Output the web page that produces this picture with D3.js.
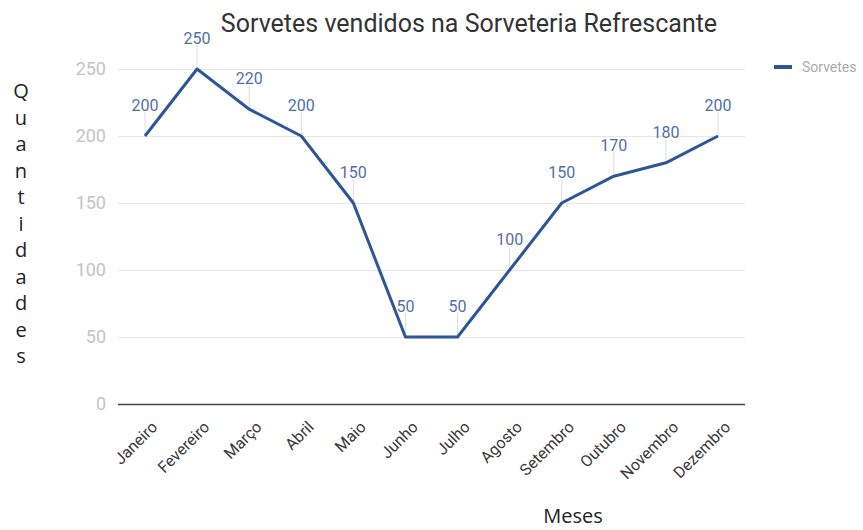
<!DOCTYPE html>
<html>
<head>
<meta charset="utf-8">
<script src="https://cdn.jsdelivr.net/npm/d3@7"></script>
<style>
  body { margin: 0; background: #fff; font-family: Roboto, "Noto Sans", sans-serif; }
</style>
</head>
<body>
<div id="chart"></div>
<script>
const months = ['Janeiro', 'Fevereiro', 'Março', 'Abril', 'Maio', 'Junho',
  'Julho', 'Agosto', 'Setembro', 'Outubro', 'Novembro', 'Dezembro'];
const sorvetes = [200, 250, 220, 200, 150, 50, 50, 100, 150, 170, 180, 200];
const yTicks = [0, 50, 100, 150, 200, 250];

const svgWidth = 863, svgHeight = 530;
const margin = { top: 69, right: 118, bottom: 126, left: 118 };
const width = svgWidth - margin.left - margin.right;
const height = svgHeight - margin.top - margin.bottom;

const x = d3.scalePoint().domain(months).range([27, 600]);
const y = d3.scaleLinear().domain([0, 250]).range([height, 0]);

const svg = d3.select('#chart').append('svg')
  .attr('width', svgWidth)
  .attr('height', svgHeight);

const g = svg.append('g')
  .attr('transform', 'translate(' + margin.left + ',' + margin.top + ')');

// grid lines + y labels
const yAxis = g.append('g')
  .call(d3.axisLeft(y).tickValues(yTicks).tickSize(-width).tickPadding(12));
yAxis.select('.domain').remove();
yAxis.selectAll('.tick line')
  .attr('stroke', d => d === 0 ? '#444' : '#e6e6e6')
  .attr('stroke-width', d => d === 0 ? 1.3 : 1);
yAxis.selectAll('.tick text')
  .attr('fill', '#c4c4c4')
  .style('font-size', '18px')
  .style('font-family', 'Roboto, sans-serif');

// x axis labels
const xAxis = g.append('g')
  .attr('transform', 'translate(0,' + height + ')')
  .call(d3.axisBottom(x).tickSize(0).tickPadding(0));
xAxis.select('.domain').remove();
xAxis.selectAll('.tick text')
  .attr('text-anchor', 'end')
  .attr('dy', '0.35em')
  .attr('transform', 'translate(9,20) rotate(-45)')
  .attr('fill', '#3a3a3a')
  .style('font-size', '16px')
  .style('font-family', 'Roboto, sans-serif');

// annotation stems
g.selectAll('.stem')
  .data(sorvetes)
  .enter()
  .append('line')
  .attr('class', 'stem')
  .attr('x1', (d, i) => x(months[i]))
  .attr('x2', (d, i) => x(months[i]))
  .attr('y1', d => y(d) - 24)
  .attr('y2', d => y(d))
  .attr('stroke', '#ddd')
  .attr('stroke-width', 1);

// line
const valueline = d3.line()
  .x((d, i) => x(months[i]))
  .y(d => y(d));

g.append('path')
  .datum(sorvetes)
  .attr('fill', 'none')
  .attr('stroke', '#2d5597')
  .attr('stroke-width', 3)
  .attr('stroke-linejoin', 'round')
  .attr('d', valueline);

// annotation labels
g.selectAll('.lbl')
  .data(sorvetes)
  .enter()
  .append('text')
  .attr('class', 'lbl')
  .attr('x', (d, i) => x(months[i]))
  .attr('y', d => y(d) - 25)
  .attr('text-anchor', 'middle')
  .attr('fill', '#4f6fa8')
  .style('font-size', '16px')
  .style('font-family', 'Roboto, sans-serif')
  .text(d => d);

// title
svg.append('text')
  .attr('x', 469)
  .attr('y', 32)
  .attr('text-anchor', 'middle')
  .attr('fill', '#333')
  .style('font-size', '25px')
  .style('font-family', 'Roboto, sans-serif')
  .text('Sorvetes vendidos na Sorveteria Refrescante');

// y title, stacked letters
svg.append('g').selectAll('text')
  .data('Quantidades'.split(''))
  .enter()
  .append('text')
  .attr('x', 21)
  .attr('y', (d, i) => 98 + i * 26.5)
  .attr('text-anchor', 'middle')
  .attr('fill', '#222')
  .style('font-size', '20px')
  .style('font-family', '"Open Sans", sans-serif')
  .text(d => d);

// x title
svg.append('text')
  .attr('x', 573)
  .attr('y', 523)
  .attr('text-anchor', 'middle')
  .attr('fill', '#222')
  .style('font-size', '20px')
  .style('font-family', '"Open Sans", sans-serif')
  .text('Meses');

// legend
const legend = svg.append('g').attr('transform', 'translate(774,67)');
legend.append('line')
  .attr('x1', 0).attr('x2', 18)
  .attr('stroke', '#2d5597')
  .attr('stroke-width', 4);
legend.append('text')
  .attr('x', 28)
  .attr('dy', '0.35em')
  .attr('fill', '#aaa')
  .style('font-size', '14px')
  .style('font-family', 'Roboto, sans-serif')
  .text('Sorvetes');
</script>
</body>
</html>
